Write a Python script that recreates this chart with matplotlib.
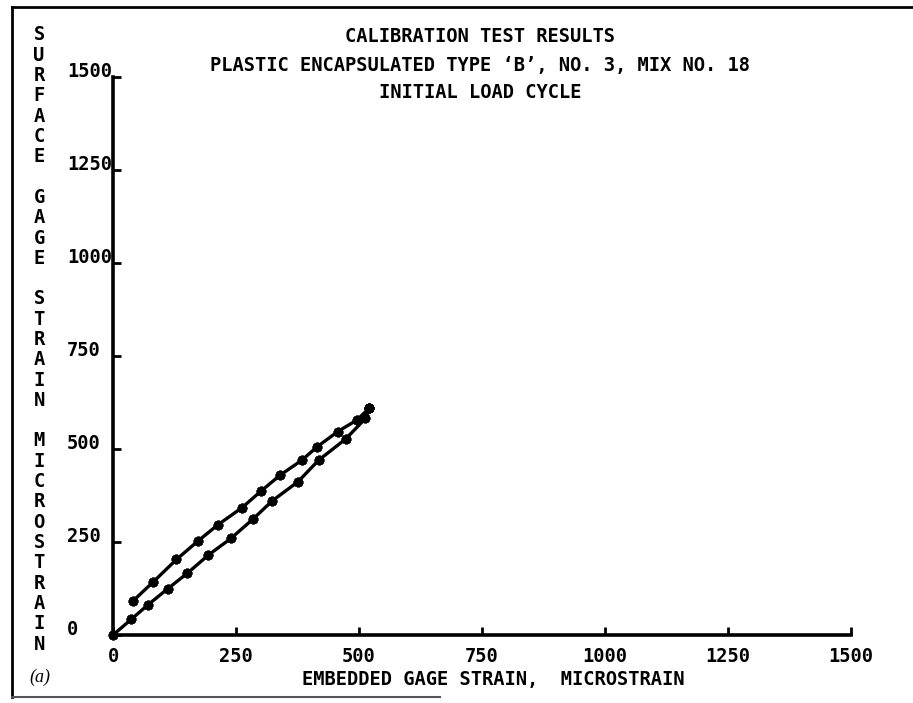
import matplotlib
matplotlib.use("Agg")
import matplotlib.pyplot as plt
from matplotlib.lines import Line2D

# loading branch (embedded gage vs surface gage, microstrain)
load_x = [0, 37, 71, 111, 151, 194, 240, 284, 324, 376, 418, 473, 513, 520]
load_y = [0, 42, 81, 124, 166, 215, 260, 311, 361, 412, 470, 527, 582, 609]
# unloading branch back down from peak
unload_x = [520, 496, 457, 415, 384, 340, 301, 262, 214, 173, 129, 82, 41]
unload_y = [609, 578, 547, 506, 470, 430, 387, 342, 297, 253, 203, 143, 92]

ticks = [0, 250, 500, 750, 1000, 1250, 1500]
tick_labels = ['0', '250', '500', '750', '1000', '1250', '1500']

title_lines = ["CALIBRATION TEST RESULTS",
               "PLASTIC ENCAPSULATED TYPE \u2018B\u2019, NO. 3, MIX NO. 18",
               "INITIAL LOAD CYCLE"]
ylabel = "SURFACE GAGE STRAIN MICROSTRAIN"
xlabel = "EMBEDDED GAGE STRAIN,  MICROSTRAIN"

W, H = 913, 703
font = dict(family='DejaVu Sans Mono', weight='bold', size=13.5)

fig = plt.figure(figsize=(W / 100, H / 100), dpi=100)
fig.patch.set_facecolor('white')

# plot box in pixels: x 113..851, y 77..635 (from top)
ax = fig.add_axes([113 / W, (H - 635) / H, 738 / W, 558 / H])
ax.set_xlim(0, 1500)
ax.set_ylim(0, 1500)
for s in ['top', 'right']:
    ax.spines[s].set_visible(False)
for s in ['left', 'bottom']:
    ax.spines[s].set_linewidth(2.6)
ax.patch.set_alpha(0)

mk = dict(marker=(8, 2, 0), markersize=7, markeredgewidth=2.0, color='black',
          linewidth=2.4, clip_on=False)
ax.plot(load_x, load_y, **mk)
ax.plot(unload_x, unload_y, **mk)

ax.set_xticks(ticks, tick_labels)
ax.set_yticks(ticks, tick_labels)
ax.tick_params(axis='both', direction='in', length=6, width=2)
ax.tick_params(axis='x', pad=9)
ax.tick_params(axis='y', pad=33)
for lab in ax.get_xticklabels():
    lab.set_fontproperties(font)
for lab in ax.get_yticklabels():
    lab.set_fontproperties(font)
    lab.set_horizontalalignment('left')
    lab.set_verticalalignment('baseline')

ax.set_xlabel(xlabel, fontdict=font)
ax.xaxis.set_label_coords((493 - 113) / 738, -(670 - 635) / 558)

# titles
for i, line in enumerate(title_lines):
    fig.text(480 / W, 1 - (37 + 28 * i) / H, line, ha='center', va='center', **font)

# vertical stacked y label
y0 = 35
for i, ch in enumerate(ylabel):
    if ch != ' ':
        fig.text(39 / W, 1 - (y0 + 20.3 * i) / H, ch, ha='center', va='center', **font)

fig.text(40 / W, 1 - 677 / H, '(a)', ha='center', va='center',
         family='Liberation Serif', style='italic', size=13)

# page border
fig.add_artist(Line2D([12 / W, 1], [1 - 7 / H, 1 - 7 / H], color='black', lw=2))
fig.add_artist(Line2D([12 / W, 12 / W], [1 - 7 / H, 1 - 697 / H], color='black', lw=2))
fig.add_artist(Line2D([12 / W, 440 / W], [1 - 697 / H, 1 - 697 / H], color='#555555', lw=1.5))

fig.savefig('out.png', dpi=100, facecolor=fig.get_facecolor())
